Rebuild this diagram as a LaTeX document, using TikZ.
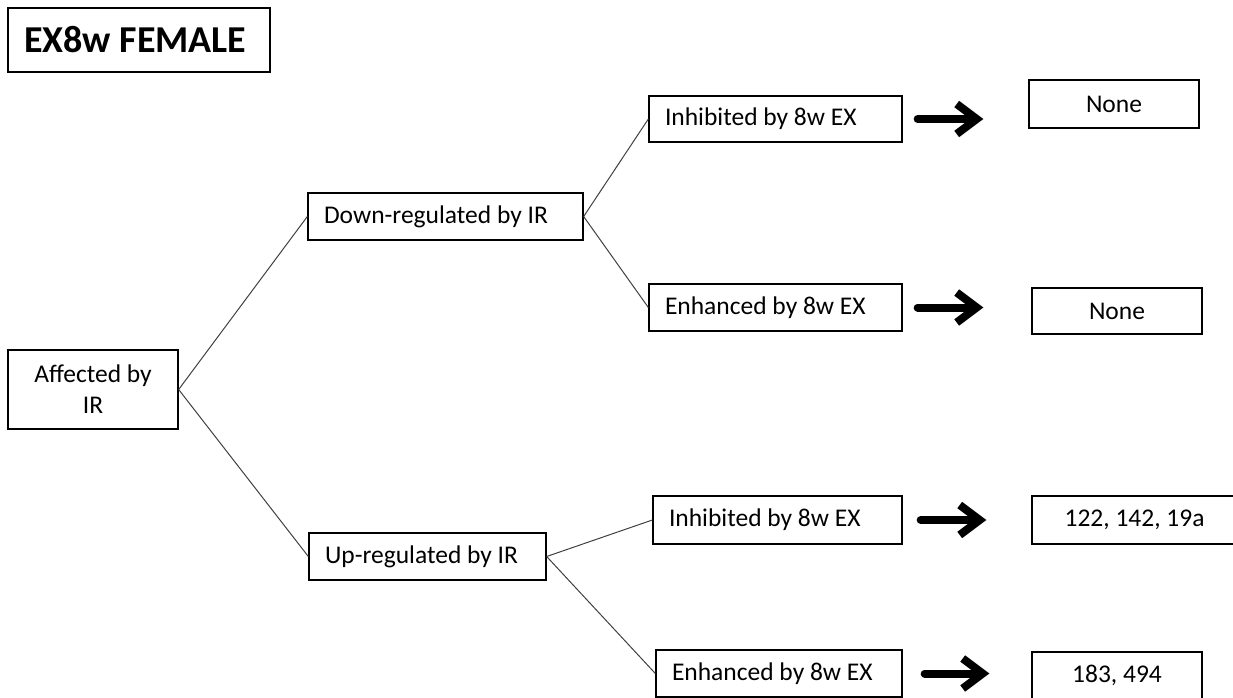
\documentclass[tikz,border=0pt]{standalone}
\usepackage{fontspec}
\setmainfont{Carlito}
\usetikzlibrary{arrows.meta}
\tikzset{
  box/.style={draw, line width=1.3pt, rectangle, align=center, inner sep=0pt, font=\fontsize{25.5}{31}\selectfont},
  leftbox/.style={box, align=flush left, inner xsep=16pt, text width=#1},
  link/.style={line width=1pt, black!75},
  bigarrow/.style={line width=8pt, -{Straight Barb[length=20pt,width=30pt]}, line cap=round, line join=round},
}
\begin{document}
\begin{tikzpicture}[x=1pt, y=-1pt]
\useasboundingbox (0,0) rectangle (1233,698);
% Title
\node[leftbox=230pt, minimum height=64pt, font=\fontsize{38}{44}\selectfont\bfseries] (title) at (139,40) {EX8w FEMALE};
% Tree
\node[box, minimum width=170pt, minimum height=79pt] (aff) at (93,389.5) {Affected by\\IR};
\node[leftbox=243pt, minimum height=47pt] (down) at (445.5,216.5) {Down-regulated by IR};
\node[leftbox=205pt, minimum height=47pt] (up) at (427.5,556.5) {Up-regulated by IR};
\node[leftbox=221pt, minimum height=46pt] (inhA) at (775.5,119) {Inhibited by 8w EX};
\node[leftbox=221pt, minimum height=47pt] (enhA) at (775.5,307.5) {Enhanced by 8w EX};
\node[leftbox=217pt, minimum height=48pt] (inhB) at (777.5,520) {Inhibited by 8w EX};
\node[leftbox=214pt, minimum height=47pt] (enhB) at (779,673.5) {Enhanced by 8w EX};
% Results
\node[box, minimum width=170pt, minimum height=48pt] (resA) at (1114,104) {None};
\node[box, minimum width=170pt, minimum height=46pt] (resB) at (1117,311) {None};
\node[box, minimum width=205pt, minimum height=48pt] (resC) at (1134.5,520) {122, 142, 19a};
\node[box, minimum width=170pt, minimum height=47pt] (resD) at (1117,675.5) {183, 494};

% Branches
\draw[link] (aff.east) -- (down.west);
\draw[link] (aff.east) -- (up.west);
\draw[link] (down.east) -- (inhA.west);
\draw[link] (down.east) -- (enhA.west);
\draw[link] (up.east) -- (inhB.west);
\draw[link] (up.east) -- (enhB.west);

% Arrows to results
\draw[bigarrow, shorten <=15pt, shorten >=45pt] (inhA.east) -- (inhA.east -| resA.west);
\draw[bigarrow, shorten <=15pt, shorten >=48pt] (enhA.east) -- (enhA.east -| resB.west);
\draw[bigarrow, shorten <=18pt, shorten >=45pt] (inhB.east) -- (inhB.east -| resC.west);
\draw[bigarrow, shorten <=22pt, shorten >=42pt] (enhB.east) -- (enhB.east -| resD.west);
\end{tikzpicture}
\end{document}
